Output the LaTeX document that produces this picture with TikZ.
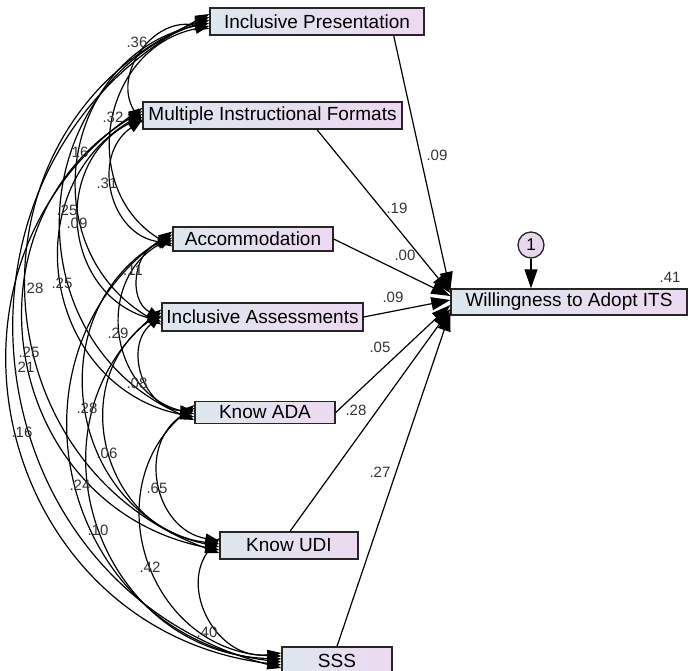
\documentclass[tikz,border=0pt]{standalone}
\usepackage{fontspec}
\setmainfont{Liberation Sans}
\usetikzlibrary{arrows.meta,calc}
\definecolor{boxL}{RGB}{221,231,237}
\definecolor{boxR}{RGB}{237,217,241}
\definecolor{circfill}{RGB}{232,216,238}
\begin{document}
\begin{tikzpicture}[x=1pt,y=-1pt,
  box/.style={draw=black!85, line width=1.4pt, left color=boxL, right color=boxR,
    font=\fontsize{19}{22}\selectfont, inner sep=0pt},
  reg/.style={line width=1.2pt, -{Triangle[length=19pt,width=13pt]}},
  cov/.style={line width=1.2pt, {Triangle[length=14pt,width=10pt]}-{Triangle[length=14pt,width=10pt]}},
  lab/.style={font=\fontsize{15}{16}\selectfont, text=black!80, inner sep=0pt}]
\useasboundingbox (0,0) rectangle (688,670);

% boxes
\node[box, minimum width=214, minimum height=27] (b1) at (317,21.5) {Inclusive Presentation};
\node[box, minimum width=259, minimum height=27] (b2) at (272.5,115.5) {Multiple Instructional Formats};
\node[box, minimum width=160, minimum height=24] (b3) at (253,239) {Accommodation};
\node[box, minimum width=201, minimum height=28] (b4) at (262.5,317) {Inclusive Assessments};
\node[box, minimum width=140, minimum height=21.5] (b5) at (265,412.5) {Know ADA};
\node[box, minimum width=138, minimum height=27] (b6) at (289,545.5) {Know UDI};
\node[box, minimum width=110, minimum height=27] (b7) at (337,660.5) {SSS};
\node[box, minimum width=236, minimum height=26] (w) at (569,302) {Willingness to Adopt ITS};
\node[draw=black!85, circle, line width=1.3pt, fill=circfill, minimum size=26, inner sep=0pt,
  font=\fontsize{17}{17}\selectfont] (e1) at (531,245) {1};

% regression paths
\draw[reg] (e1.south) -- (w.north -| e1);
\draw[reg] ($(b1.south east)+(-31,0)$) -- ($(w.west)+(0,-11)$);
\draw[reg] ($(b2.south)+(44.5,0)$) -- ($(w.west)+(0,-9)$);
\draw[reg] (b3.east) -- ($(w.west)+(0,-6)$);
\draw[reg] (b4.east) -- ($(w.west)+(0,-2)$);
\draw[reg] (b5.east) -- ($(w.west)+(0,3)$);
\draw[reg] ($(b6.north)+(1,0)$) -- ($(w.west)+(0,7)$);
\draw[reg] (b7.north) -- ($(w.west)+(0,10)$);

% covariances
\foreach \i/\j in {1/2,1/3,1/4,1/5,1/6,1/7,2/3,2/4,2/5,2/6,2/7,3/4,3/5,3/6,3/7,4/5,4/6,4/7,5/6,5/7,6/7} {
  \pgfmathsetmacro\offA{(4.5-\j)*3}
  \pgfmathsetmacro\offB{(3.5-\i)*3}
  \draw[cov] ($(b\i.west)+(0,\offA)$) to[bend right=69, looseness=1.27] ($(b\j.west)+(0,\offB)$);
}

% path labels
\node[lab] (p1) at (437,155) {.09};
\node[lab] (p2) at (397,208) {.19};
\node[lab] (p3) at (405,255) {.00};
\node[lab] (p4) at (393,297) {.09};
\node[lab] (p5) at (380,347) {.05};
\node[lab] (p6) at (356,410) {.28};
\node[lab] (p7) at (380,472) {.27};
\node[lab] (r2) at (670,277) {.41};

% covariance labels
\node[lab] (c12) at (137,42) {.36};
\node[lab] (c13) at (113,117) {.32};
\node[lab] (c14) at (78,152) {.16};
\node[lab] (c15) at (67,210) {.25};
\node[lab] (c16) at (33,288) {.28};
\node[lab] (c17) at (24,367) {.21};
\node[lab] (c23) at (107,183) {.31};
\node[lab] (c24) at (77,223) {.09};
\node[lab] (c25) at (62,283) {.25};
\node[lab] (c26) at (29,352) {.25};
\node[lab] (c27) at (22,432) {.16};
\node[lab] (c34) at (133,270) {.11};
\node[lab] (c35) at (118,333) {.29};
\node[lab] (c36) at (87,408) {.28};
\node[lab] (c37) at (80,485) {.24};
\node[lab] (c45) at (137,383) {.08};
\node[lab] (c46) at (107,453) {.06};
\node[lab] (c47) at (98,530) {.10};
\node[lab] (c56) at (157,488) {.65};
\node[lab] (c57) at (150,567) {.42};
\node[lab] (c67) at (207,632) {.40};
\end{tikzpicture}
\end{document}
